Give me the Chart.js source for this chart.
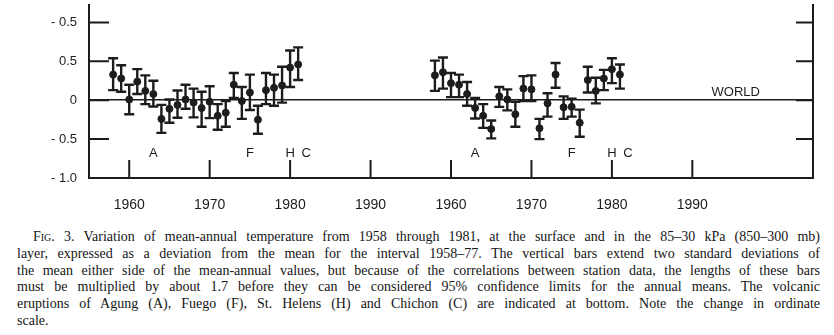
<!DOCTYPE html>
<html lang="en">
  <head>
    <meta charset="UTF-8" />
    <meta name="viewport" content="width=device-width, initial-scale=1.0" />
    <title>Fig. 3</title>
    <style>
      body {
        margin: 0;
        background: #fff;
        width: 834px;
        height: 335px;
        overflow: hidden;
        position: relative;
      }
      #myChart {
        position: absolute;
        left: 0;
        top: 0;
      }
      #caption {
        position: absolute;
        left: 17px;
        top: 229px;
        width: 803px;
        font-family: "Liberation Serif", "Times New Roman", serif;
        font-size: 14px;
        line-height: 16.8px;
        color: #151515;
      }
      #caption div {
        text-align: justify;
        text-align-last: justify;
        white-space: nowrap;
      }
      #caption div.first {
        padding-left: 16px;
      }
      #caption div.last {
        text-align-last: left;
      }
    </style>
  </head>
  <body>
    <canvas id="myChart" width="834" height="222"></canvas>
    <div id="caption">
      <div class="first"><span style="font-variant: small-caps">Fig</span>. 3. Variation of mean-annual temperature from 1958 through 1981, at the surface and in the 85–30 kPa (850–300 mb)</div>
      <div>layer, expressed as a deviation from the mean for the interval 1958–77. The vertical bars extend two standard deviations of</div>
      <div>the mean either side of the mean-annual values, but because of the correlations between station data, the lengths of these bars</div>
      <div>must be multiplied by about 1.7 before they can be considered 95% confidence limits for the annual means. The volcanic</div>
      <div>eruptions of Agung (A), Fuego (F), St. Helens (H) and Chichon (C) are indicated at bottom. Note the change in ordinate</div>
      <div class="last">scale.</div>
    </div>
  </body>
  <script src="https://cdn.jsdelivr.net/npm/chart.js"></script>
  <script>
    // years shown in each panel; the right panel is shifted 40 years along the shared x axis
    let years = [1958, 1959, 1960, 1961, 1962, 1963, 1964, 1965, 1966, 1967, 1968, 1969,
                 1970, 1971, 1972, 1973, 1974, 1975, 1976, 1977, 1978, 1979, 1980, 1981];
    let panelOffset = 40;

    // left panel: surface
    let surfaceMean = [0.33, 0.28, 0.01, 0.24, 0.12, 0.08, -0.24, -0.11, -0.06, 0.01, -0.03, -0.10,
                       -0.02, -0.20, -0.16, 0.20, -0.01, 0.10, -0.25, 0.13, 0.16, 0.19, 0.42, 0.46];
    let surfaceHigh = [0.54, 0.45, 0.20, 0.40, 0.32, 0.25, -0.06, 0.01, 0.125, 0.20, 0.15, 0.11,
                       0.18, -0.05, -0.01, 0.35, 0.17, 0.33, -0.07, 0.35, 0.33, 0.43, 0.64, 0.68];
    let surfaceLow = [0.13, 0.11, -0.18, 0.08, -0.05, -0.08, -0.42, -0.29, -0.225, -0.11, -0.22, -0.34,
                      -0.23, -0.38, -0.34, 0.03, -0.24, -0.125, -0.43, -0.05, -0.07, -0.03, 0.17, 0.26];

    // right panel: 85-30 kPa layer
    let layerMean = [0.32, 0.36, 0.22, 0.20, 0.08, -0.10, -0.20, -0.37, 0.05, 0.01, -0.18, 0.15,
                     0.14, -0.36, -0.04, 0.33, -0.09, -0.085, -0.29, 0.26, 0.12, 0.28, 0.40, 0.33];
    let layerHigh = [0.51, 0.55, 0.35, 0.33, 0.235, 0.03, -0.05, -0.26, 0.17, 0.14, -0.02, 0.31,
                     0.32, -0.24, 0.09, 0.48, 0.05, 0.02, -0.12, 0.43, 0.29, 0.39, 0.54, 0.46];
    let layerLow = [0.12, 0.15, 0.04, 0.04, -0.07, -0.235, -0.355, -0.49, -0.085, -0.13, -0.34, -0.01,
                    -0.01, -0.50, -0.21, 0.16, -0.24, -0.21, -0.47, 0.10, -0.04, 0.13, 0.22, 0.15];

    // axis ticks
    let xTickValues = [1960, 1970, 1980, 1990, 2000, 2010, 2020, 2030];
    let xTickLabels = ["1960", "1970", "1980", "1990", "1960", "1970", "1980", "1990"];
    let yTickValues = [1, 0.5, 0, -0.5, -1];
    let yTickLabels = ["- 0.5", "0.5", "0", "- 0.5", "- 1.0"];
    let rightTickValues = [1, 0.5, 0, -0.5];

    // volcanic eruptions marked at the bottom
    let volcanoLetters = ["A", "F", "H", "C"];
    let volcanoYears = [1963, 1975, 1980, 1982];

    const ink = "#1c1c1c";
    const sans = "'Liberation Sans', Arial, sans-serif";

    function points(mean, shift) {
      return years.map((yr, i) => ({ x: yr + shift, y: mean[i] }));
    }

    // no extra room round the plot: it runs to the top edge of the canvas
    function noPadding(scale) {
      scale.paddingTop = 0;
      scale.paddingBottom = 0;
      scale.paddingLeft = 0;
      scale.paddingRight = 0;
    }

    // error bars, inward ticks and text labels
    const figurePlugin = {
      id: "figure",
      beforeDatasetsDraw(chart) {
        const { ctx, chartArea, scales } = chart;
        const x = scales.x;
        const y = scales.y;
        ctx.save();
        ctx.strokeStyle = ink;
        ctx.lineWidth = 2;
        ctx.beginPath();
        xTickValues.forEach((v) => {
          const px = x.getPixelForValue(v);
          ctx.moveTo(px, chartArea.bottom);
          ctx.lineTo(px, chartArea.bottom - 18);
        });
        yTickValues.forEach((v) => {
          const py = y.getPixelForValue(v);
          ctx.moveTo(chartArea.left, py);
          ctx.lineTo(chartArea.left + 20, py);
        });
        rightTickValues.forEach((v) => {
          const py = scales.y2.getPixelForValue(v);
          ctx.moveTo(chartArea.right, py);
          ctx.lineTo(chartArea.right - 17, py);
        });
        ctx.stroke();

        ctx.lineWidth = 2.4;
        chart.data.datasets.forEach((ds) => {
          const ys = scales[ds.yAxisID];
          ctx.beginPath();
          ds.data.forEach((p, j) => {
            const px = x.getPixelForValue(p.x);
            const top = ys.getPixelForValue(ds.high[j]);
            const bot = ys.getPixelForValue(ds.low[j]);
            ctx.moveTo(px, top);
            ctx.lineTo(px, bot);
            ctx.moveTo(px - 5, top);
            ctx.lineTo(px + 5, top);
            ctx.moveTo(px - 5, bot);
            ctx.lineTo(px + 5, bot);
          });
          ctx.stroke();
        });

        ctx.fillStyle = ink;
        ctx.font = "13px " + sans;
        ctx.textAlign = "center";
        ctx.textBaseline = "middle";
        [0, panelOffset].forEach((shift) => {
          volcanoLetters.forEach((letter, i) => {
            ctx.fillText(letter, x.getPixelForValue(volcanoYears[i] + shift), y.getPixelForValue(-0.68));
          });
        });
        ctx.fillText("WORLD", x.getPixelForValue(2035.4), y.getPixelForValue(0.1));
        ctx.restore();
      },
    };

    var ctx = document.getElementById("myChart").getContext("2d");
    var chart = new Chart(ctx, {
      type: "scatter",
      data: {
        datasets: [
          {
            label: "Surface",
            data: points(surfaceMean, 0),
            high: surfaceHigh,
            low: surfaceLow,
            yAxisID: "y",
            backgroundColor: ink,
            borderColor: ink,
            pointRadius: 3.5,
          },
          {
            label: "85-30 kPa",
            data: points(layerMean, panelOffset),
            high: layerHigh,
            low: layerLow,
            yAxisID: "y2",
            backgroundColor: ink,
            borderColor: ink,
            pointRadius: 3.5,
          },
        ],
      },
      options: {
        responsive: false,
        animation: false,
        layout: { padding: 0 },
        plugins: { legend: { display: false }, tooltip: { enabled: false } },
        scales: {
          x: {
            type: "linear",
            min: 1955,
            max: 2045,
            afterBuildTicks: (scale) => {
              scale.ticks = xTickValues.map((v) => ({ value: v }));
            },
            afterFit: (scale) => {
              scale.height = 44;
              noPadding(scale);
            },
            grid: { display: false },
            border: { display: true, color: ink, width: 2 },
            ticks: {
              padding: 11,
              color: ink,
              font: { family: sans, size: 14 },
              maxRotation: 0,
              callback: (value) => xTickLabels[xTickValues.indexOf(value)],
            },
          },
          y: {
            position: "left",
            min: -1,
            max: 1.225,
            afterBuildTicks: (scale) => {
              scale.ticks = yTickValues.map((v) => ({ value: v }));
            },
            afterFit: (scale) => {
              scale.width = 89;
              noPadding(scale);
            },
            grid: {
              drawTicks: false,
              lineWidth: 1.5,
              color: (c) => (c.tick && c.tick.value === 0 ? ink : "rgba(0,0,0,0)"),
            },
            border: { display: true, color: ink, width: 2 },
            ticks: {
              padding: 12,
              color: ink,
              font: { family: sans, size: 13 },
              callback: (value) => yTickLabels[yTickValues.indexOf(value)],
            },
          },
          y2: {
            position: "right",
            display: true,
            min: -1,
            max: 1.225,
            afterFit: (scale) => {
              scale.width = 21;
              noPadding(scale);
            },
            grid: { display: false, drawOnChartArea: false },
            border: { display: true, color: ink, width: 2 },
            ticks: { display: false },
          },
        },
      },
      plugins: [figurePlugin],
    });
  </script>
</html>
